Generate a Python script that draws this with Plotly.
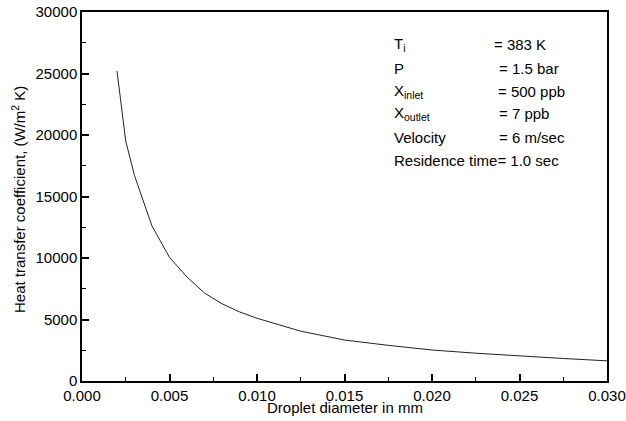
import plotly.graph_objects as go

# Data
diameter_mm = [0.002, 0.0025, 0.003, 0.004, 0.005, 0.006, 0.007, 0.008, 0.009, 0.010,
               0.0125, 0.015, 0.0175, 0.020, 0.0225, 0.025, 0.0275, 0.030]
heat_coeff = [25200, 19500, 16700, 12600, 10050, 8450, 7150, 6280, 5620, 5100,
              4050, 3330, 2900, 2520, 2260, 2030, 1830, 1640]

x_ticks = [0.000, 0.005, 0.010, 0.015, 0.020, 0.025, 0.030]
y_ticks = [0, 5000, 10000, 15000, 20000, 25000, 30000]

param_labels = ["T<sub>i</sub>", "P", "X<sub>inlet</sub>", "X<sub>outlet</sub>", "Velocity", "Residence time= 1.0 sec"]
param_values = ["= 383 K", "= 1.5 bar", "= 500 ppb", "= 7 ppb", "= 6 m/sec", ""]

FONT = "Liberation Sans, Arial, sans-serif"
W, H = 626, 421
L, R, T, B = 82, 19, 12, 40
PW, PH = W - L - R, H - T - B


def px(xp):
    return (xp - L) / PW


def py(yp):
    return (H - B - yp) / PH


fig = go.Figure()
fig.add_trace(go.Scatter(x=diameter_mm, y=heat_coeff, mode="lines",
                         line=dict(color="#222222", width=1), showlegend=False, hoverinfo="skip"))

axis_common = dict(showgrid=False, zeroline=False, showline=True, linecolor="black", linewidth=1.5,
                   mirror=True, ticks="inside", ticklen=7, tickwidth=1.5, tickcolor="black",
                   automargin=False,
                   tickfont=dict(family=FONT, size=15, color="black"))

fig.update_xaxes(range=[0, 0.030], tickvals=x_ticks, tickformat=".3f",
                 minor=dict(ticks="inside", ticklen=4, tickwidth=1, tickcolor="black", dtick=0.0025, tick0=0),
                 **axis_common)
fig.update_yaxes(range=[0, 30000], tickvals=y_ticks, tickformat="d",
                 minor=dict(ticks="inside", ticklen=4, tickwidth=1, tickcolor="black", dtick=2500, tick0=0),
                 **axis_common)

annotations = []
label_rows = [44, 68, 91, 114, 137, 160]
value_x = [492, 497, 496, 497, 497, 497]
for i, (lab, val) in enumerate(zip(param_labels, param_values)):
    annotations.append(dict(x=px(392), y=py(label_rows[i]), xref="paper", yref="paper", text=lab,
                            showarrow=False, xanchor="left", yanchor="middle",
                            font=dict(family=FONT, size=15, color="black")))
    if val:
        annotations.append(dict(x=px(value_x[i]), y=py(label_rows[i]), xref="paper", yref="paper", text=val,
                                showarrow=False, xanchor="left", yanchor="middle",
                                font=dict(family=FONT, size=15, color="black")))

annotations.append(dict(x=px(345), y=py(407), xref="paper", yref="paper", text="Droplet diameter in mm",
                        showarrow=False, xanchor="center", yanchor="middle",
                        font=dict(family=FONT, size=15, color="black")))
annotations.append(dict(x=px(18), y=py(200), xref="paper", yref="paper",
                        text="Heat transfer coefficient, (W/m<sup>2</sup> K)", textangle=-90,
                        showarrow=False, xanchor="center", yanchor="middle",
                        font=dict(family=FONT, size=15, color="black")))

fig.update_layout(width=W, height=H, margin=dict(l=L, r=R, t=T, b=B, autoexpand=False),
                  paper_bgcolor="white", plot_bgcolor="white", annotations=annotations,
                  font=dict(family=FONT, size=15, color="black"))

fig.write_html("out.html", config={"displayModeBar": False},
               post_script="document.body.style.margin='0';document.body.style.overflow='hidden';")
